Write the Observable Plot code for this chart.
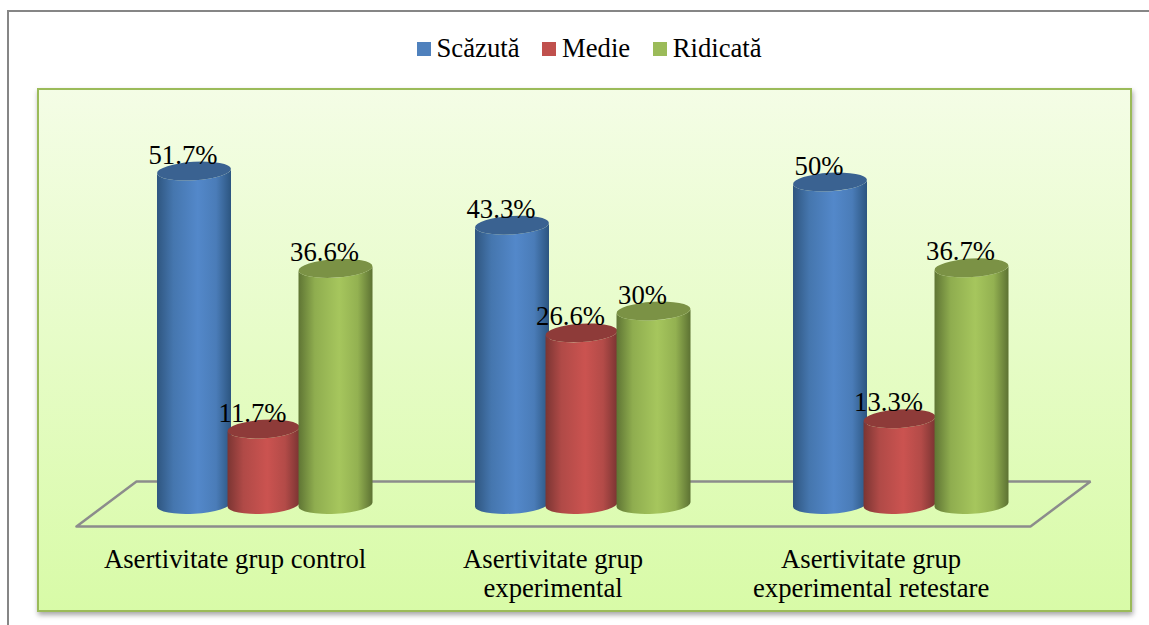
<!DOCTYPE html>
<html lang="ro">
<head>
<meta charset="utf-8">
<script src="https://cdn.jsdelivr.net/npm/d3@7"></script>
<script src="https://cdn.jsdelivr.net/npm/@observablehq/plot@0.6"></script>
<style>
  html, body { margin: 0; padding: 0; background: #fff; overflow: hidden; }
  #page { position: relative; width: 1149px; height: 625px; font-family: "Liberation Serif", serif; color: #000; }
  #frame { position: absolute; left: 7px; top: 10px; right: -4px; bottom: -4px; border: 2px solid #868686; box-sizing: border-box; }
  #legend { position: absolute; left: 417px; top: 33px; display: flex; align-items: center; font-size: 26.7px; line-height: 31px; }
  #legend .item { display: flex; align-items: center; margin-right: 23px; white-space: nowrap; }
  #legend .sw { width: 14px; height: 14px; margin-right: 5.5px; flex: none; }
  #chart { position: absolute; left: 37px; top: 88px; }
</style>
</head>
<body>
<div id="page">
  <div id="frame"></div>
  <div id="legend"></div>
  <div id="chart"></div>
</div>
<script>
const groups = ["Asertivitate grup control", "Asertivitate grup\nexperimental", "Asertivitate grup\nexperimental retestare"];
const seriesNames = ["Scăzută", "Medie", "Ridicată"];
const scazuta = [51.7, 43.3, 50];
const medie = [11.7, 26.6, 13.3];
const ridicata = [36.6, 30, 36.7];
const scazutaLabels = ["51.7%", "43.3%", "50%"];
const medieLabels = ["11.7%", "26.6%", "13.3%"];
const ridicataLabels = ["36.6%", "30%", "36.7%"];

const legendColors = ["#4f81bd", "#c0504d", "#9bbb59"];
const looks = [
  {id: "cylBlue",  stops: ["#2f5680", "#4576ae", "#5388ca", "#4a7cb8", "#2c5580"], top: "#3a6291"},
  {id: "cylRed",   stops: ["#7b3533", "#b04a47", "#cb5350", "#b34b48", "#7a3432"], top: "#8e3b39"},
  {id: "cylGreen", stops: ["#5f7534", "#8fad4f", "#a6c65d", "#93b151", "#5d7233"], top: "#7b9245"}
];

// Layout of the pseudo-3D drawing, in scale units
const PX_W = 1095, PX_H = 524;
const xRange = [68.5, 1022.5];      // one unit of x = one category
const yRange = [416.5, 29.5];       // value 0 .. 60
const offsets = [-0.2217, -0.003, 0.2233];
const widths = [0.2327, 0.2265, 0.2327];
const RY = 9.2, TILT = -3.5;        // ellipse of the cylinder caps

const rows = [];
[scazuta, medie, ridicata].forEach((vals, s) => {
  const labels = [scazutaLabels, medieLabels, ridicataLabels][s];
  vals.forEach((v, g) => {
    const c = g + 0.5 + offsets[s];
    rows.push({s, g, v, label: labels[g], c, x1: c - widths[s] / 2, x2: c + widths[s] / 2});
  });
});

const floorX = [-0.0928, 2.9072, 3.0959, 0.0959, -0.0928];
const floorY = [-3.33, -3.33, 3.64, 3.64, -3.33];
const floor = floorX.map((x, i) => ({x, y: floorY[i]}));
const groupRows = groups.map((name, i) => ({name, x: i + 0.5 - 0.094, y: -6.55}));

// Turns each rectangle drawn by Plot into a cylinder: rounded foot and an elliptical cap
function cylinder(index, scales, values, dims, ctx, next) {
  const g = next(index, scales, values, dims, ctx);
  const ns = "http://www.w3.org/2000/svg";
  const rects = Array.from(g.querySelectorAll("rect"));
  rects.forEach((r, i) => {
    const row = rows[index[i]];
    const x = +r.getAttribute("x"), y = +r.getAttribute("y");
    const w = +r.getAttribute("width"), h = +r.getAttribute("height");
    const rx = w / 2, cx = x + rx;
    const dy = rx * Math.tan(-TILT * Math.PI / 180);
    const body = document.createElementNS(ns, "path");
    body.setAttribute("d",
      `M${x},${y + dy}L${x},${y + h + dy}` +
      `A${rx},${RY} ${TILT} 0 0 ${x + w},${y + h - dy}` +
      `L${x + w},${y - dy}` +
      `A${rx},${RY} ${TILT} 0 1 ${x},${y + dy}Z`);
    body.setAttribute("fill", `url(#${looks[row.s].id})`);
    const cap = document.createElementNS(ns, "ellipse");
    cap.setAttribute("cx", cx);
    cap.setAttribute("cy", y);
    cap.setAttribute("rx", rx);
    cap.setAttribute("ry", RY);
    cap.setAttribute("transform", `rotate(${TILT} ${cx} ${y})`);
    cap.setAttribute("fill", looks[row.s].top);
    r.replaceWith(body);
    body.after(cap);
  });
  return g;
}

const chart = Plot.plot({
  width: PX_W,
  height: PX_H,
  margin: 0,
  style: {
    background: "linear-gradient(to bottom, #f4fde6 0%, #d8fba7 100%)",
    outline: "2px solid #9bbb59",
    outlineOffset: "-2px",
    boxShadow: "1px 3px 5px rgba(0,0,0,0.35)",
    display: "block",
    fontFamily: "'Liberation Serif', serif",
    color: "#000",
    overflow: "visible"
  },
  x: {domain: [0, 3], range: xRange, axis: null},
  y: {domain: [0, 60], range: yRange, axis: null},
  marks: [
    Plot.line(floor, {x: "x", y: "y", stroke: "#8c8c8c", strokeWidth: 2.5, strokeLinejoin: "miter"}),
    Plot.rect(rows, {x1: "x1", x2: "x2", y1: 0, y2: "v", fill: d => legendColors[d.s], inset: 0, render: cylinder}),
    Plot.text(rows, {x: "c", y: "v", text: "label", dx: -11.5, dy: -16.5, fontSize: 26.7, fill: "#000", lineAnchor: "middle"}),
    Plot.text(groupRows, {x: "x", y: "y", text: "name", fontSize: 26.7, lineHeight: 1.09, lineAnchor: "top", fill: "#000"})
  ]
});

// gradients for the cylinder bodies
const defs = document.createElementNS("http://www.w3.org/2000/svg", "defs");
defs.innerHTML = looks.map(l =>
  `<linearGradient id="${l.id}" x1="0" x2="1" y1="0" y2="0">` +
  [0, 0.22, 0.55, 0.8, 1].map((o, i) => `<stop offset="${o}" stop-color="${l.stops[i]}"/>`).join("") +
  `</linearGradient>`).join("");
chart.insertBefore(defs, chart.firstChild);
document.getElementById("chart").appendChild(chart);

document.getElementById("legend").innerHTML = seriesNames.map((n, i) =>
  `<div class="item"><span class="sw" style="background:${legendColors[i]}"></span><span>${n}</span></div>`).join("");
</script>
</body>
</html>
